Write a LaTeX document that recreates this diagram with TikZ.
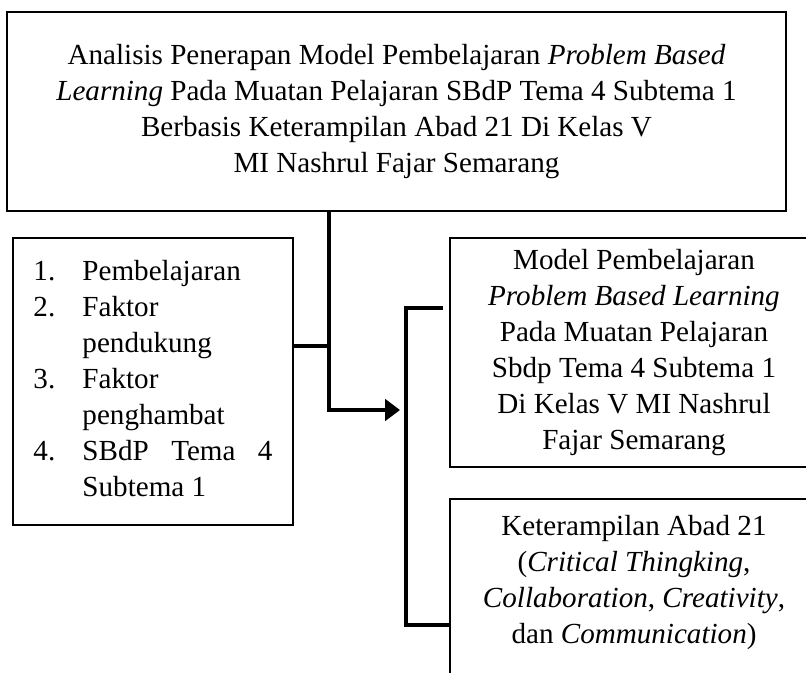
\documentclass[tikz,border=0pt]{standalone}
\usepackage{fontspec}
\setmainfont{Liberation Serif}
\usetikzlibrary{positioning,arrows.meta}

\begin{document}
\begin{tikzpicture}[x=0.025cm, y=-0.025cm,
    every node/.style={font=\fontsize{20.7}{25.6}\selectfont},
    box/.style={draw, line width=1.4pt, align=center, inner sep=0pt},
    conn/.style={line width=2.8pt}]
    \useasboundingbox (0,0) rectangle (806,672);
    \clip (0,0) rectangle (806,672);

    % Judul
    \node[box, minimum width=19.475cm, minimum height=4.975cm] (judul) at (396.5,111.5)
        {Analisis Penerapan Model Pembelajaran \textit{Problem Based}\\
         \textit{Learning} Pada Muatan Pelajaran SBdP Tema 4 Subtema 1\\
         Berbasis Keterampilan Abad 21 Di Kelas V\\
         MI Nashrul Fajar Semarang};

    % Fokus
    \node[box, minimum width=7cm, minimum height=7.175cm] (fokus) at (153,381.5)
        {\begin{tabular}{@{}p{1.225cm}@{}p{4.75cm}@{}}
         1. & Pembelajaran\\
         2. & Faktor\\
            & pendukung\\
         3. & Faktor\\
            & penghambat\\
         4. & \makebox[4.75cm][s]{SBdP Tema 4}\\
            & Subtema 1
         \end{tabular}};

    % Model
    \node[box, minimum width=9.2cm, minimum height=5.725cm] (model) at (634,352.5)
        {Model Pembelajaran\\
         \textit{Problem Based Learning}\\
         Pada Muatan Pelajaran\\
         Sbdp Tema 4 Subtema 1\\
         Di Kelas V MI Nashrul\\
         Fajar Semarang};

    % Keterampilan
    \node[box, minimum width=9.2cm, minimum height=5.525cm] (skill) at (634,609.5) {};
    \node[align=center] (skilltext) at (634,582)
        {Keterampilan Abad 21\\
         (\textit{Critical Thingking},\\
         \textit{Collaboration}, \textit{Creativity},\\
         dan \textit{Communication})};

    % connectors
    \coordinate (belok) at (329,410);
    \coordinate (temu) at (329,346);
    \coordinate (ujung) at (400,410);
    \coordinate (atas) at (406,308);
    \coordinate (bawah) at (406,625);
    \draw[conn, -{Triangle[length=10.5pt, width=15pt]}] (judul.south -| belok) -- (belok) -- (ujung);
    \draw[conn] (temu -| fokus.east) -- (temu);
    \draw[conn] ([xshift=-4pt] atas -| model.west) -- (atas) -- (bawah) -- (bawah -| skill.west);
\end{tikzpicture}
\end{document}
